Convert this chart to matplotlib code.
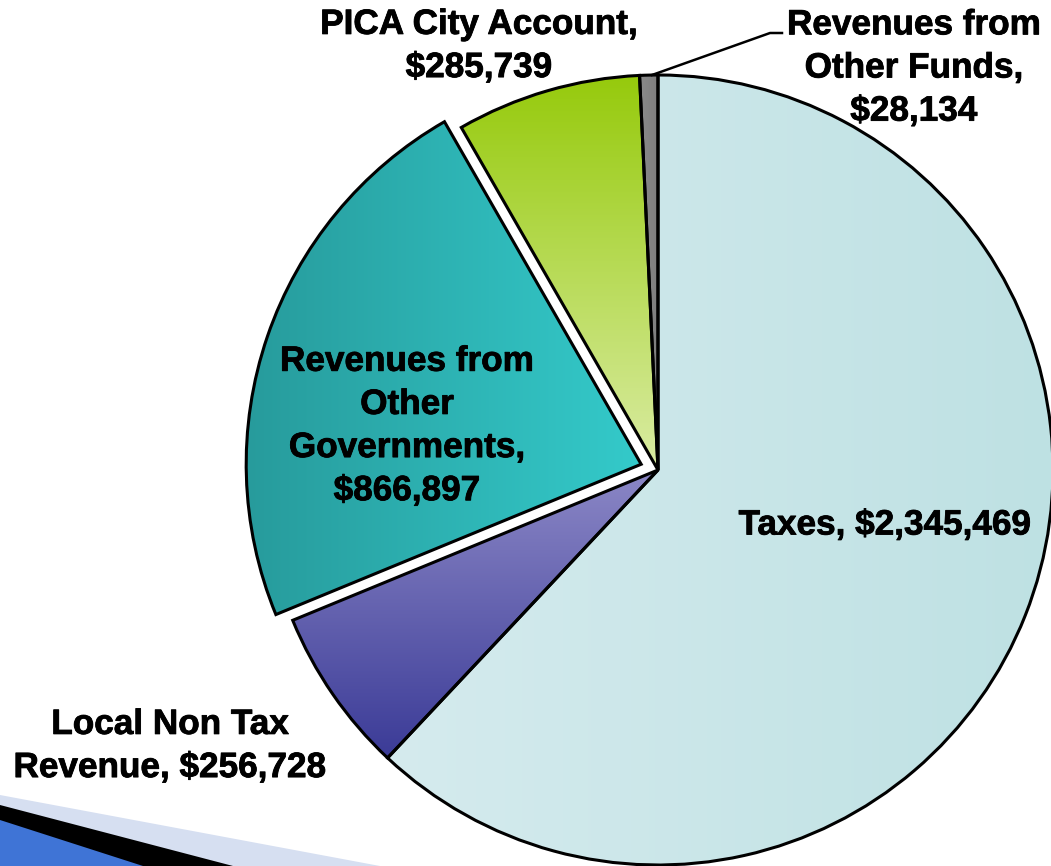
import numpy as np
import matplotlib
matplotlib.use("Agg")
import matplotlib.pyplot as plt
import matplotlib.patheffects as pe
from matplotlib.colors import to_rgb
from matplotlib.patches import Polygon

# ---- data ----
categories = ["Taxes", "Local Non Tax Revenue", "Revenues from Other Governments",
              "PICA City Account", "Revenues from Other Funds"]
values = [2345469, 256728, 866897, 285739, 28134]
labels = ["Taxes, $2,345,469",
          "Local Non Tax\nRevenue, $256,728",
          "Revenues from\nOther\nGovernments,\n$866,897",
          "PICA City Account,\n$285,739",
          "Revenues from\nOther Funds,\n$28,134"]

# gradient colours: (start, end, direction)
grads = [("#d5ebee", "#bee1e3", "h"),
         ("#3b3b97", "#8b87c6", "v_up"),
         ("#279b9c", "#34caca", "h"),
         ("#96ca0c", "#daeca3", "v_down"),
         ("#8a8a8a", "#7e7e7e", "h")]

W, H = 1051, 866
fig = plt.figure(figsize=(W / 100, H / 100), dpi=100)
ax = fig.add_axes([0, 0, 1, 1])

def Y(y):  # image pixel y -> data y
    return H - y

# decorative slide corner
ax.add_patch(Polygon([(0, Y(795)), (380, Y(866)), (0, Y(866))], closed=True,
                     facecolor="#d6dff1", edgecolor="none", zorder=0))
ax.add_patch(Polygon([(0, Y(805)), (233, Y(866)), (0, Y(866))], closed=True,
                     facecolor="black", edgecolor="none", zorder=0))
ax.add_patch(Polygon([(0, Y(820)), (143, Y(866)), (0, Y(866))], closed=True,
                     facecolor="#3f74d6", edgecolor="none", zorder=0))

cx, cy, R = 658, Y(470), 395
explode = [0, 0, 0.045 * R, 0, 0]   # pie explode offsets are in data units
wedges, _ = ax.pie(values, startangle=90, counterclock=False, radius=R,
                   center=(cx, cy), explode=explode,
                   colors=[g[0] for g in grads],
                   wedgeprops=dict(edgecolor="black", linewidth=2.2),
                   frame=True)

n = 200
t = np.linspace(0, 1, n)
for w, (c1, c2, d) in zip(wedges, grads):
    c1, c2 = np.array(to_rgb(c1)), np.array(to_rgb(c2))
    if d == "h":
        f = np.tile(t, (n, 1))
    elif d == "v_up":
        f = np.tile(1 - t, (n, 1)).T
    else:
        f = np.tile(t, (n, 1)).T
    img = c1[None, None, :] * (1 - f[..., None]) + c2[None, None, :] * f[..., None]
    bb = w.get_path().get_extents(w.get_patch_transform())
    im = ax.imshow(img, extent=(bb.x0, bb.x1, bb.y0, bb.y1), origin="upper",
                   zorder=1, aspect="auto", interpolation="bilinear")
    im.set_clip_path(w)
    w.set_facecolor("none")
    w.set_zorder(2)

ax.set_xlim(0, W)
ax.set_ylim(0, H)
ax.set_aspect("auto")
ax.axis("off")

fp = dict(fontsize=25.3, fontweight="bold", family=["Liberation Sans", "DejaVu Sans"],
          ha="center", va="center", linespacing=1.39, zorder=5, color="black",
          path_effects=[pe.withStroke(linewidth=0.6, foreground="black")])
ax.text(885, Y(525), labels[0], **fp)
ax.text(170, Y(746), labels[1], **fp)
ax.text(407, Y(426), labels[2], **fp)
ax.text(479, Y(46), labels[3], **fp)
ax.text(914, Y(68), labels[4], **fp)

# leader line for the small slice
ax.plot([652, 770, 782], [Y(75), Y(33), Y(33)], color="black", lw=1.8, zorder=4)

fig.savefig("out.png", dpi=100)
